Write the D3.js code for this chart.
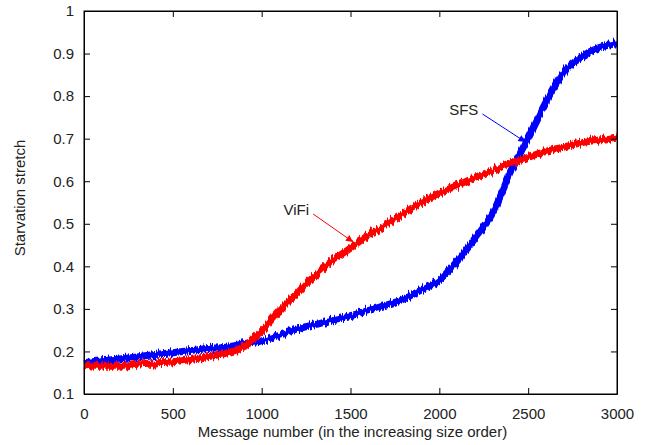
<!DOCTYPE html>
<html>
<head>
<meta charset="utf-8">
<script src="https://cdn.jsdelivr.net/npm/d3@7"></script>
<style>
  body { margin: 0; background: #fff; }
  text { font-family: "Liberation Sans", Arial, sans-serif; fill: #222; }
</style>
</head>
<body>
<div id="chart"></div>
<script>
// Starvation stretch per message, ViFi vs SFS

const messages = [0, 100, 200, 300, 400, 500, 600, 700, 800, 900, 1000,
  1100, 1200, 1300, 1400, 1500, 1600, 1700, 1800, 1900, 2000,
  2100, 2200, 2300, 2400, 2500, 2600, 2700, 2800, 2900, 3000];

const vifi = [0.167, 0.165, 0.165, 0.170, 0.173, 0.176, 0.181, 0.188, 0.196, 0.211, 0.248,
  0.296, 0.337, 0.378, 0.414, 0.443, 0.473, 0.498, 0.525, 0.550, 0.572,
  0.590, 0.609, 0.625, 0.641, 0.656, 0.670, 0.680, 0.690, 0.697, 0.704];

const sfs = [0.174, 0.178, 0.182, 0.187, 0.193, 0.197, 0.202, 0.207, 0.210, 0.218, 0.225,
  0.238, 0.253, 0.263, 0.274, 0.284, 0.296, 0.309, 0.323, 0.345, 0.368,
  0.412, 0.465, 0.525, 0.620, 0.702, 0.786, 0.855, 0.892, 0.914, 0.923];

const xTicks = [0, 500, 1000, 1500, 2000, 2500, 3000];
const yTicks = [0.1, 0.2, 0.3, 0.4, 0.5, 0.6, 0.7, 0.8, 0.9, 1];

// annotation: label, point on curve the arrow points to
const notes = [
  { name: "ViFi", at: 1520, value: 0.455, color: "red" },
  { name: "SFS", at: 2490, value: 0.69, color: "blue" }
];

const width = 657,
  height = 445,
  margin = { top: 11, right: 40, bottom: 51, left: 84 },
  tickLen = 6,
  fontSize = 15;

const x = d3.scaleLinear().domain([0, 3000]).range([margin.left, width - margin.right]);
const y = d3.scaleLinear().domain([0.1, 1]).range([height - margin.bottom, margin.top]);

const svg = d3.select("#chart")
  .append("svg")
  .attr("width", width)
  .attr("height", height);

const defs = svg.append("defs");
for (let n of notes) {
  defs.append("marker")
    .attr("id", "head-" + n.name)
    .attr("viewBox", "0 0 10 10")
    .attr("refX", 10)
    .attr("refY", 5)
    .attr("markerWidth", 14)
    .attr("markerHeight", 7)
    .attr("markerUnits", "userSpaceOnUse")
    .attr("orient", "auto")
    .append("path")
    .attr("d", "M0,0L10,5L0,10Z")
    .attr("fill", n.color);
}

// rough edge so the thick lines look like dense per-message samples
const rough = defs.append("filter")
  .attr("id", "rough")
  .attr("x", "-5%").attr("y", "-10%")
  .attr("width", "110%").attr("height", "120%");
rough.append("feTurbulence")
  .attr("type", "fractalNoise")
  .attr("baseFrequency", "0.6 0.02")
  .attr("numOctaves", 2)
  .attr("seed", 3)
  .attr("result", "noise");
rough.append("feColorMatrix")
  .attr("in", "noise")
  .attr("type", "matrix")
  .attr("values", "0 0 0 0 0.5  0 1 0 0 0  0 0 0 0 0  0 0 0 0 1")
  .attr("result", "shift");
rough.append("feDisplacementMap")
  .attr("in", "SourceGraphic")
  .attr("in2", "shift")
  .attr("scale", 9)
  .attr("xChannelSelector", "R")
  .attr("yChannelSelector", "G");

const line = d3.line()
  .x((d, i) => x(messages[i]))
  .y(d => y(d))
  .curve(d3.curveMonotoneX);

const series = [[sfs, "blue"], [vifi, "red"]];
for (let [vals, color] of series) {
  svg.append("path")
    .datum(vals)
    .attr("fill", "none")
    .attr("stroke", color)
    .attr("stroke-width", 7)
    .attr("stroke-linejoin", "round")
    .attr("filter", "url(#rough)")
    .attr("d", line);
}

// axes with inward ticks, mirrored on top and right
const axisB = d3.axisBottom(x).tickValues(xTicks).tickSizeInner(-tickLen).tickSizeOuter(0).tickPadding(14).tickFormat(d3.format("d"));
const axisT = d3.axisTop(x).tickValues(xTicks).tickSizeInner(-tickLen).tickSizeOuter(0).tickFormat("");
const axisL = d3.axisLeft(y).tickValues(yTicks).tickSizeInner(-tickLen).tickSizeOuter(0).tickPadding(10).tickFormat(d3.format("~g"));
const axisR = d3.axisRight(y).tickValues(yTicks).tickSizeInner(-tickLen).tickSizeOuter(0).tickFormat("");

const axes = [
  [axisB, `translate(0,${height - margin.bottom})`],
  [axisT, `translate(0,${margin.top})`],
  [axisL, `translate(${margin.left},0)`],
  [axisR, `translate(${width - margin.right},0)`]
];
for (let [ax, tr] of axes) {
  svg.append("g")
    .attr("transform", tr)
    .call(ax)
    .call(g => g.select(".domain").attr("stroke", "#000"))
    .call(g => g.selectAll(".tick line").attr("stroke", "#000"))
    .call(g => g.selectAll("text").attr("font-size", fontSize).style("fill", "#222")
      .attr("font-family", "'Liberation Sans', Arial, sans-serif"));
}

svg.append("rect")
  .attr("x", margin.left)
  .attr("y", margin.top)
  .attr("width", width - margin.left - margin.right)
  .attr("height", height - margin.top - margin.bottom)
  .attr("fill", "none")
  .attr("stroke", "#000");

svg.append("text")
  .attr("x", x(1500) + 2)
  .attr("y", 437)
  .attr("text-anchor", "middle")
  .attr("font-size", fontSize)
  .text("Message number (in the increasing size order)");

svg.append("text")
  .attr("transform", "translate(25,198) rotate(-90)")
  .attr("text-anchor", "middle")
  .attr("font-size", fontSize)
  .text("Starvation stretch");

// labels sit up-left of the arrow tip
const labelOffset = { ViFi: [-41, -29], SFS: [-44, -29] };
for (let n of notes) {
  const tx = x(n.at), ty = y(n.value);
  const [dx, dy] = labelOffset[n.name];
  svg.append("text")
    .attr("x", tx + dx - 4)
    .attr("y", ty + dy + 1)
    .attr("text-anchor", "end")
    .attr("font-size", fontSize)
    .text(n.name);
  svg.append("line")
    .attr("x1", tx + dx)
    .attr("y1", ty + dy)
    .attr("x2", tx - 1)
    .attr("y2", ty - 1)
    .attr("stroke", n.color)
    .attr("stroke-width", 1)
    .attr("marker-end", `url(#head-${n.name})`);
}
</script>
</body>
</html>
